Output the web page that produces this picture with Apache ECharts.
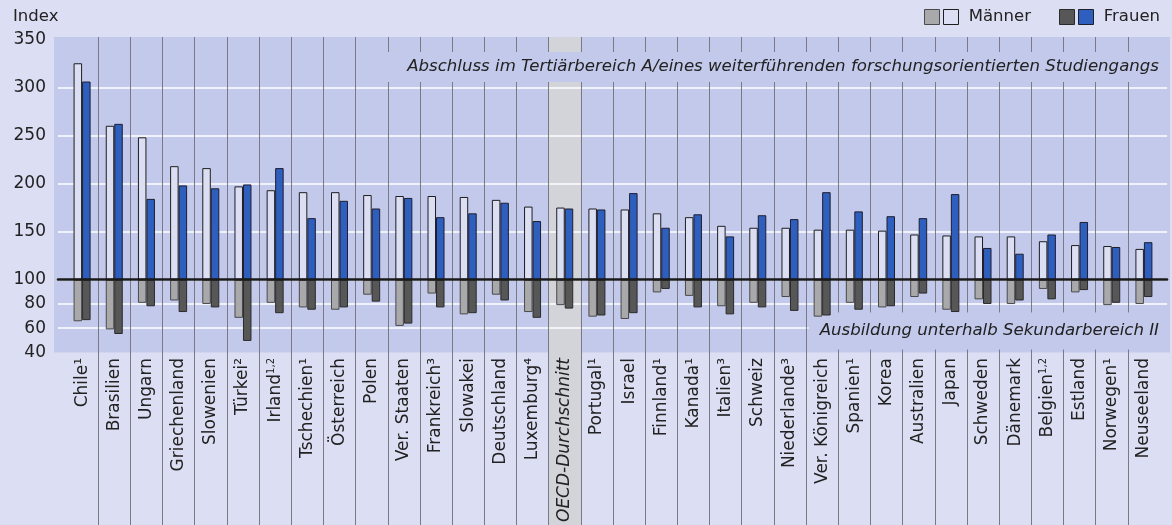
<!DOCTYPE html>
<html>
<head>
<meta charset="utf-8">
<script src="https://cdn.jsdelivr.net/npm/echarts@6/dist/echarts.min.js"></script>
<style>
  html, body { margin: 0; padding: 0; background: #dcdff3; }
  #main { width: 1172px; height: 525px; }
</style>
</head>
<body>
<div id="main"></div>
<script>
const categories = ['Chile¹', 'Brasilien', 'Ungarn', 'Griechenland', 'Slowenien', 'Türkei²', 'Irland¹,²',
  'Tschechien¹', 'Österreich', 'Polen', 'Ver. Staaten', 'Frankreich³', 'Slowakei', 'Deutschland',
  'Luxemburg⁴', 'OECD-Durchschnitt', 'Portugal¹', 'Israel', 'Finnland¹', 'Kanada¹', 'Italien³', 'Schweiz',
  'Niederlande³', 'Ver. Königreich', 'Spanien¹', 'Korea', 'Australien', 'Japan', 'Schweden', 'Dänemark',
  'Belgien¹,²', 'Estland', 'Norwegen¹', 'Neuseeland'];

// Abschluss Tertiärbereich A (Index, unterhalb Sek. II = 100 Basis)
const menTertiary = [325, 260, 248, 218, 216, 197, 193, 191, 191, 188, 187, 187, 186, 183, 176, 175, 174,
  173, 169, 165, 156, 154, 154, 152, 152, 151, 147, 146, 145, 145, 140, 136, 135, 132];
const womenTertiary = [306, 262, 184, 198, 195, 199, 216, 164, 182, 174, 185, 165, 169, 180, 161, 174, 173,
  190, 154, 168, 145, 167, 163, 191, 171, 166, 164, 189, 133, 127, 147, 160, 134, 139];
// Ausbildung unterhalb Sekundarbereich II
const menBelow = [64, 57, 80, 82, 79, 67, 80, 76, 74, 87, 60, 88, 70, 87, 72, 78, 68,
  66, 89, 86, 77, 80, 85, 68, 80, 76, 85, 74, 83, 79, 92, 89, 78, 79];
const womenBelow = [65, 53, 77, 72, 76, 47, 71, 74, 76, 81, 62, 76, 71, 82, 67, 75, 69,
  71, 92, 76, 70, 76, 73, 69, 74, 77, 88, 72, 79, 82, 83, 91, 80, 85];

const upperTicks = [100, 150, 200, 250, 300, 350];
const lowerTicks = [40, 60, 80, 100];
const BASE = 100;
const oecdName = 'OECD-Durchschnitt';
const upperNote = 'Abschluss im Tertiärbereich A/eines weiterführenden forschungsorientierten Studiengangs';
const lowerNote = 'Ausbildung unterhalb Sekundarbereich II';

const FONT = 'DejaVu Sans';
const PLOT_BG = '#c3c9eb';
const TEXT = '#222';

const chart = echarts.init(document.getElementById('main'));

const upperGrid = { top: 39.2, height: 240.5 };
const lowerGrid = { top: 279.7, height: 72.8 };

const upperY = {
  type: 'value',
  min: upperTicks[0] - BASE,
  max: upperTicks[upperTicks.length - 1] - BASE,
  interval: upperTicks[1] - upperTicks[0]
};
const lowerY = {
  type: 'value',
  min: lowerTicks[0] - BASE,
  max: lowerTicks[lowerTicks.length - 1] - BASE,
  interval: lowerTicks[1] - lowerTicks[0]
};

const axisLabelStyle = { color: TEXT, fontFamily: FONT, fontSize: 17 };

// "Irland¹,²" -> small raised "1,2" via rich text
function catLabel(v) {
  if (v === oecdName) return '{it|' + v + '}';
  const m = v.match(/^(.*)¹,²$/);
  if (m) return m[1] + '{sup|1,2}';
  return v;
}

function barSeries(name, values, axisIdx, fill, border) {
  return {
    name: name,
    type: 'bar',
    xAxisIndex: axisIdx,
    yAxisIndex: axisIdx,
    data: values.map(v => v - BASE),
    barWidth: 8.5,
    barGap: '0%',
    silent: true,
    itemStyle: { color: fill, borderColor: border, borderWidth: 1 }
  };
}

const legendBase = {
  top: 8.5,
  padding: 0,
  itemWidth: 15,
  itemHeight: 15,
  itemGap: 3,
  icon: 'rect',
  selectedMode: false,
  itemStyle: { borderWidth: 1 },
  formatter: n => (n.endsWith('_u') ? '' : ' ' + n),
  textStyle: { color: TEXT, fontFamily: FONT, fontSize: 16.5 }
};

const option = {
  backgroundColor: '#dcdff3',
  animation: false,
  title: {
    text: 'Index',
    left: 13,
    top: 8,
    padding: 0,
    textStyle: { color: TEXT, fontFamily: FONT, fontSize: 16.5, fontWeight: 'normal' }
  },
  legend: [
    Object.assign({}, legendBase, { left: 924, data: ['Männer_u', 'Männer'] }),
    Object.assign({}, legendBase, { left: 1059, data: ['Frauen_u', 'Frauen'] })
  ],
  graphic: [
    {
      type: 'rect', z: -2, silent: true,
      shape: { x: 54, y: 37, width: 1116, height: 315.5 },
      style: { fill: PLOT_BG }
    },
    {
      type: 'text', z: 1, silent: true, x: 1170, y: 67,
      style: {
        text: upperNote, font: 'italic 16.6px "DejaVu Sans"', fill: TEXT,
        align: 'right', verticalAlign: 'middle', textAlign: 'right', textVerticalAlign: 'middle',
        backgroundColor: PLOT_BG, padding: [7, 11, 6, 35]
      }
    },
    {
      type: 'text', z: 1, silent: true, x: 1170, y: 331,
      style: {
        text: lowerNote, font: 'italic 16.6px "DejaVu Sans"', fill: TEXT,
        align: 'right', verticalAlign: 'middle', textAlign: 'right', textVerticalAlign: 'middle',
        backgroundColor: PLOT_BG, padding: [7, 11, 13, 11]
      }
    }
  ],
  grid: [
    Object.assign({ left: 58, right: 5 }, upperGrid),
    Object.assign({ left: 58, right: 5 }, lowerGrid),
    Object.assign({ left: 66, right: 12 }, upperGrid),
    Object.assign({ left: 66, right: 12 }, lowerGrid),
    { left: 66, right: 12, top: 37, bottom: 0 }
  ],
  xAxis: [
    {
      gridIndex: 0, type: 'category', data: categories, z: 5,
      axisLine: { show: true, lineStyle: { color: '#1a1a1a', width: 2.5 } },
      axisTick: { show: false }, axisLabel: { show: false }
    },
    { gridIndex: 1, type: 'category', data: categories, show: false },
    { gridIndex: 2, type: 'category', data: categories, show: false },
    {
      gridIndex: 3, type: 'category', data: categories, position: 'bottom',
      axisLine: { show: false, onZero: false }, axisTick: { show: false },
      axisLabel: Object.assign({
        interval: 0, rotate: 90, margin: 9,
        formatter: catLabel,
        rich: {
          it: { fontStyle: 'italic', color: TEXT, fontFamily: FONT, fontSize: 17 },
          sup: { color: TEXT, fontFamily: FONT, fontSize: 10, verticalAlign: 'top', padding: [0, 0, 6, 0] }
        }
      }, axisLabelStyle)
    },
    {
      gridIndex: 4, type: 'category', data: categories,
      axisLine: { show: false }, axisTick: { show: false }, axisLabel: { show: false },
      splitLine: {
        show: true, interval: 0, showMinLine: false, showMaxLine: false,
        lineStyle: { color: '#7a7a84', width: 1 }
      }
    }
  ],
  yAxis: [
    Object.assign({}, upperY, {
      gridIndex: 0,
      axisLine: { show: false }, axisTick: { show: false },
      axisLabel: Object.assign({ margin: 12, formatter: v => v + BASE }, axisLabelStyle),
      splitLine: { show: true, showMaxLine: false, lineStyle: { color: '#ffffff', width: 1.5 } }
    }),
    Object.assign({}, lowerY, {
      gridIndex: 1,
      axisLine: { show: false }, axisTick: { show: false },
      axisLabel: Object.assign({ margin: 12, showMaxLabel: false, formatter: v => v + BASE }, axisLabelStyle),
      splitLine: { show: true, showMinLine: false, lineStyle: { color: '#ffffff', width: 1.5 } }
    }),
    Object.assign({}, upperY, { gridIndex: 2, show: false }),
    Object.assign({}, lowerY, { gridIndex: 3, show: false }),
    { gridIndex: 4, type: 'value', min: 0, max: 1, show: false }
  ],
  series: [
    barSeries('Männer', menTertiary, 2, '#dcdff3', '#1e1e1e'),
    barSeries('Frauen', womenTertiary, 2, '#2e5fbe', '#1e1e2e'),
    barSeries('Männer_u', menBelow, 3, '#a9a9ac', '#4a4a4a'),
    barSeries('Frauen_u', womenBelow, 3, '#575757', '#2a2a2a'),
    {
      name: 'oecd-band',
      type: 'bar',
      xAxisIndex: 4,
      yAxisIndex: 4,
      z: -1,
      silent: true,
      barWidth: '100%',
      data: categories.map(c => (c === oecdName ? 1 : '-')),
      itemStyle: { color: '#d3d4d9' }
    }
  ]
};

chart.setOption(option);
</script>
</body>
</html>
